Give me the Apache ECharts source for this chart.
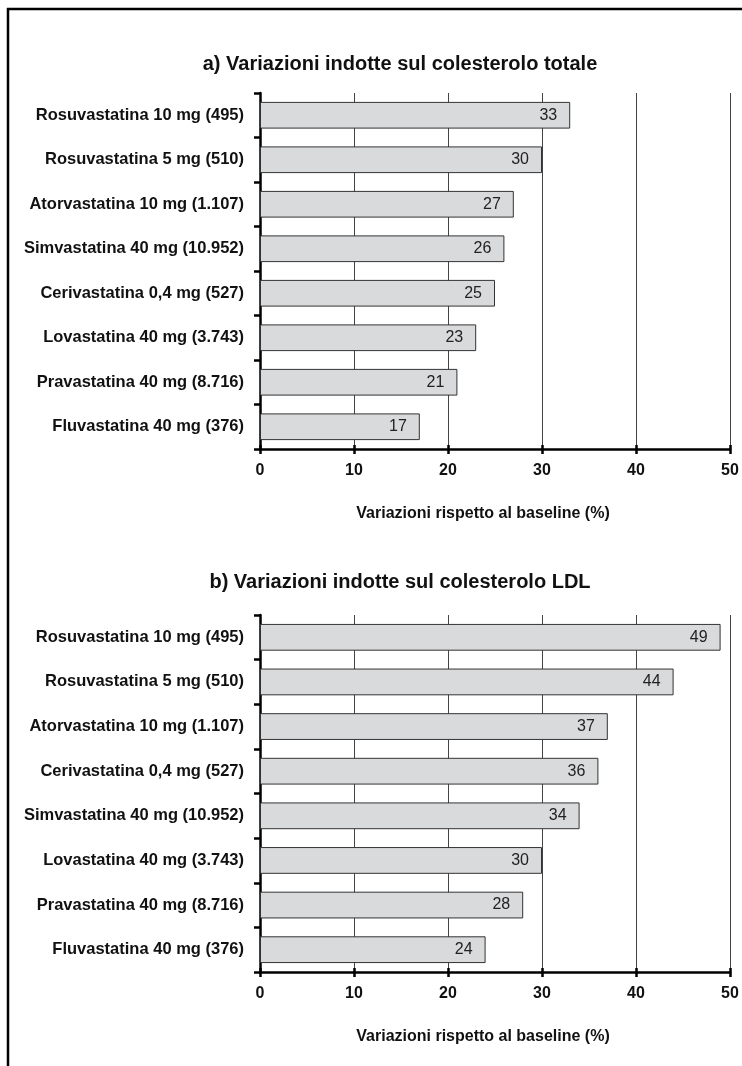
<!DOCTYPE html>
<html>
<head>
<meta charset="utf-8">
<script src="https://cdn.jsdelivr.net/npm/echarts@6/dist/echarts.min.js"></script>
<style>
html,body{margin:0;padding:0;background:#fff;}
#c{width:742px;height:1066px;}
</style>
</head>
<body>
<div id="c"></div>
<script>
const titleA = 'a) Variazioni indotte sul colesterolo totale';
const titleB = 'b) Variazioni indotte sul colesterolo LDL';
const axisName = 'Variazioni rispetto al baseline (%)';
const categoriesA = ['Rosuvastatina 10 mg (495)','Rosuvastatina 5 mg (510)','Atorvastatina 10 mg (1.107)','Simvastatina 40 mg (10.952)','Cerivastatina 0,4 mg (527)','Lovastatina 40 mg (3.743)','Pravastatina 40 mg (8.716)','Fluvastatina 40 mg (376)'];
const valuesA = [33,30,27,26,25,23,21,17];
const categoriesB = ['Rosuvastatina 10 mg (495)','Rosuvastatina 5 mg (510)','Atorvastatina 10 mg (1.107)','Cerivastatina 0,4 mg (527)','Simvastatina 40 mg (10.952)','Lovastatina 40 mg (3.743)','Pravastatina 40 mg (8.716)','Fluvastatina 40 mg (376)'];
const valuesB = [49,44,37,36,34,30,28,24];
const xMin = 0, xMax = 50, xStep = 10;

const FONT = '"Liberation Sans", Arial, Helvetica, sans-serif';
const chart = echarts.init(document.getElementById('c'), null, {renderer:'canvas'});

function xAxes(gi){
  return [{
    type:'value', gridIndex:gi, min:xMin, max:xMax, interval:xStep, position:'bottom',
    name: axisName, nameLocation:'middle', nameGap:57,
    nameTextStyle:{fontFamily:FONT, fontWeight:'bold', fontSize:16, color:'#111', padding:[0,24,0,0]},
    axisLine:{show:true, onZero:false, lineStyle:{color:'#000', width:2.5}},
    axisTick:{show:true, inside:false, length:5, lineStyle:{color:'#000', width:2.5}},
    axisLabel:{show:true, margin:14, fontFamily:FONT, fontWeight:'bold', fontSize:16, color:'#111'},
    splitLine:{show:true, lineStyle:{color:'#444', width:1}}
  },{
    type:'value', gridIndex:gi, min:xMin, max:xMax, interval:xStep, position:'bottom',
    axisLine:{show:false}, axisLabel:{show:false}, splitLine:{show:false},
    axisTick:{show:true, inside:true, length:4, lineStyle:{color:'#000', width:2.5}}
  }];
}
function yAxis(gi, cats){
  return {
    type:'category', gridIndex:gi, data:cats, inverse:true,
    axisLine:{show:true, onZero:false, lineStyle:{color:'#000', width:2.5}},
    axisTick:{show:true, length:6, lineStyle:{color:'#000', width:2.5}},
    axisLabel:{margin:16, fontFamily:FONT, fontWeight:'bold', fontSize:16.5, color:'#111'},
    splitLine:{show:false}
  };
}
function bars(xi, yi, vals){
  return {
    type:'bar', xAxisIndex:xi, yAxisIndex:yi, data:vals, barWidth:'60%',
    itemStyle:{color:'#d9dadc', borderColor:'#333', borderWidth:1},
    label:{show:true, position:'insideRight', distance:13, fontFamily:FONT, fontSize:16, color:'#222'},
    silent:true, animation:false
  };
}

chart.setOption({
  animation:false,
  backgroundColor:'#fff',
  title:[
    {text:titleA, left:395, top:49, textAlign:'center', textStyle:{fontFamily:FONT, fontWeight:'bold', fontSize:20, color:'#111'}},
    {text:titleB, left:395, top:567, textAlign:'center', textStyle:{fontFamily:FONT, fontWeight:'bold', fontSize:20, color:'#111'}}
  ],
  grid:[
    {left:260, width:470, top:93, height:356},
    {left:260, width:470, top:615, height:357}
  ],
  xAxis:[...xAxes(0), ...xAxes(1)],
  yAxis:[yAxis(0, categoriesA), yAxis(1, categoriesB)],
  series:[bars(0,0,valuesA), bars(2,1,valuesB)],
  graphic:[
    {type:'line', shape:{x1:7, y1:9, x2:742, y2:9}, style:{stroke:'#000', lineWidth:2.5}, silent:true},
    {type:'line', shape:{x1:8, y1:8, x2:8, y2:1066}, style:{stroke:'#000', lineWidth:2.5}, silent:true}
  ]
});
</script>
</body>
</html>
